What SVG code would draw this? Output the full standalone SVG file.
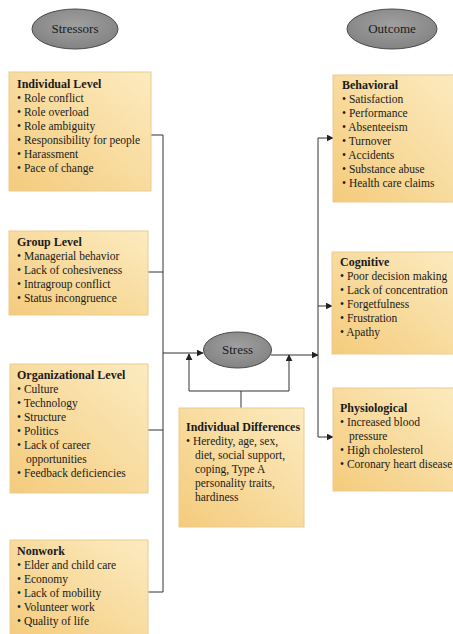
<svg xmlns="http://www.w3.org/2000/svg" width="453" height="634" viewBox="0 0 453 634">
<defs>
<linearGradient id="boxg" x1="1" y1="0" x2="0" y2="1">
<stop offset="0" stop-color="#fcebc0"/>
<stop offset="1" stop-color="#f4cb7c"/>
</linearGradient>
<radialGradient id="ellg" cx="0.5" cy="0.4" r="0.6">
<stop offset="0" stop-color="#a0a0a0"/>
<stop offset="1" stop-color="#838383"/>
</radialGradient>
<marker id="arr" viewBox="0 0 10 10" refX="9" refY="5" markerWidth="7" markerHeight="7" orient="auto" markerUnits="userSpaceOnUse">
<path d="M0,0 L10,5 L0,10 z" fill="#222"/>
</marker>
<style>
.box{fill:url(#boxg);stroke:#eccb8e;stroke-width:1}
.ell{fill:url(#ellg);stroke:#4a4a4a;stroke-width:1}
text{font-size:11.5px;fill:#1a1a1a}
.t{font-weight:bold;font-size:12px}
.e{font-size:13px;text-anchor:middle}
.c{fill:none;stroke:#333;stroke-width:1}
</style>
</defs>
<rect width="453" height="634" fill="#fff"/>

<g id="connectors">
<polyline class="c" points="151,135 163,135 163,592 148,592"/>
<line class="c" x1="148" y1="272" x2="163" y2="272"/>
<line class="c" x1="148" y1="430" x2="163" y2="430"/>
<line class="c" x1="163" y1="353" x2="203" y2="353" marker-end="url(#arr)"/>
<polyline class="c" points="189,391 289,391"/>
<line class="c" x1="189" y1="391" x2="189" y2="354" marker-end="url(#arr)"/>
<line class="c" x1="289" y1="391" x2="289" y2="355" marker-end="url(#arr)"/>
<line class="c" x1="241" y1="391" x2="241" y2="408"/>
<line class="c" x1="271" y1="355" x2="318" y2="355" marker-end="url(#arr)"/>
<polyline class="c" points="318,138 318,437"/>
<line class="c" x1="318" y1="138" x2="333" y2="138" marker-end="url(#arr)"/>
<line class="c" x1="318" y1="306" x2="332" y2="306" marker-end="url(#arr)"/>
<line class="c" x1="318" y1="437" x2="333" y2="437" marker-end="url(#arr)"/>
</g>

<g font-family="'Liberation Serif', 'DejaVu Serif', 'Times New Roman', serif">
<g id="stressors">
<ellipse class="ell" cx="75" cy="29" rx="43" ry="20"/>
<text class="e" x="75" y="33">Stressors</text>
</g>
<g id="outcome">
<ellipse class="ell" cx="392" cy="29" rx="45" ry="20"/>
<text class="e" x="392" y="33">Outcome</text>
</g>
<g id="stress">
<ellipse class="ell" cx="237.5" cy="350" rx="34" ry="18"/>
<text class="e" x="237.5" y="354">Stress</text>
</g>

<g id="individual-level">
<rect class="box" x="9" y="72" width="142" height="119"/>
<text class="t" x="17" y="88">Individual Level</text>
<text x="17" y="102">• Role conflict</text>
<text x="17" y="116">• Role overload</text>
<text x="17" y="130">• Role ambiguity</text>
<text x="17" y="144">• Responsibility for people</text>
<text x="17" y="158">• Harassment</text>
<text x="17" y="172">• Pace of change</text>
</g>

<g id="group-level">
<rect class="box" x="9" y="231" width="139" height="84"/>
<text class="t" x="17" y="246">Group Level</text>
<text x="17" y="260">• Managerial behavior</text>
<text x="17" y="274">• Lack of cohesiveness</text>
<text x="17" y="288">• Intragroup conflict</text>
<text x="17" y="302">• Status incongruence</text>
</g>

<g id="organizational-level">
<rect class="box" x="10" y="364" width="138" height="129"/>
<text class="t" x="17" y="379">Organizational Level</text>
<text x="17" y="393">• Culture</text>
<text x="17" y="407">• Technology</text>
<text x="17" y="421">• Structure</text>
<text x="17" y="435">• Politics</text>
<text x="17" y="449">• Lack of career</text>
<text x="26" y="463">opportunities</text>
<text x="17" y="477">•  Feedback deficiencies</text>
</g>

<g id="nonwork">
<rect class="box" x="10" y="540" width="138" height="100"/>
<text class="t" x="17" y="555">Nonwork</text>
<text x="17" y="569">• Elder and child care</text>
<text x="17" y="583">• Economy</text>
<text x="17" y="597">• Lack of mobility</text>
<text x="17" y="611">• Volunteer work</text>
<text x="17" y="625">• Quality of life</text>
</g>

<g id="individual-differences">
<rect class="box" x="179" y="408" width="125" height="119"/>
<text class="t" x="186" y="431">Individual Differences</text>
<text x="186" y="445">• Heredity, age, sex,</text>
<text x="195" y="459">diet, social support,</text>
<text x="195" y="473">coping, Type A</text>
<text x="195" y="487">personality traits,</text>
<text x="195" y="501">hardiness</text>
</g>

<g id="behavioral">
<rect class="box" x="333" y="75" width="125" height="127"/>
<text class="t" x="342" y="89">Behavioral</text>
<text x="342" y="103">• Satisfaction</text>
<text x="342" y="117">• Performance</text>
<text x="342" y="131">• Absenteeism</text>
<text x="342" y="145">• Turnover</text>
<text x="342" y="159">• Accidents</text>
<text x="342" y="173">• Substance abuse</text>
<text x="342" y="187">• Health care claims</text>
</g>

<g id="cognitive">
<rect class="box" x="332" y="252" width="126" height="102"/>
<text class="t" x="340" y="266">Cognitive</text>
<text x="340" y="280">• Poor decision making</text>
<text x="340" y="294">• Lack of concentration</text>
<text x="340" y="308">• Forgetfulness</text>
<text x="340" y="322">• Frustration</text>
<text x="340" y="336">• Apathy</text>
</g>

<g id="physiological">
<rect class="box" x="333" y="388" width="125" height="103"/>
<text class="t" x="340" y="412">Physiological</text>
<text x="340" y="426">• Increased blood</text>
<text x="349" y="440">pressure</text>
<text x="340" y="454">• High cholesterol</text>
<text x="340" y="468">• Coronary heart disease</text>
</g>
</g>
</svg>
